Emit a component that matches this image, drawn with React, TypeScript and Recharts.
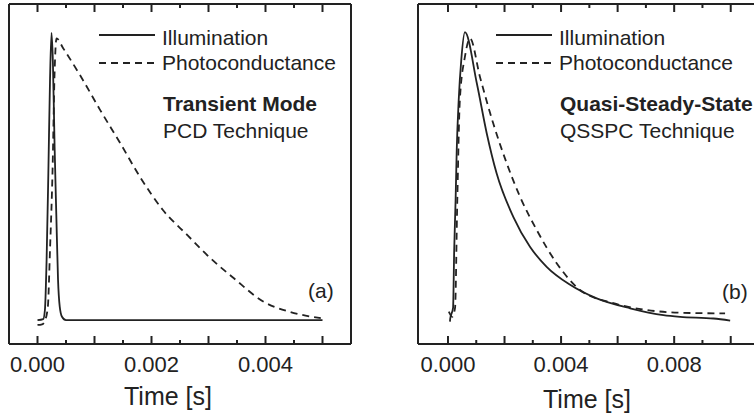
import React from 'react';
import { LineChart, Line, XAxis, YAxis } from 'recharts';

const INK = '#222';
const FONT = '"Liberation Sans", Arial, Helvetica, sans-serif';

// ---- Panel (a): Transient mode ----
const aIllumT = [0, 0.0001, 0.00013, 0.00016, 0.00019, 0.00022, 0.000246, 0.00027, 0.0003, 0.00033, 0.00036, 0.00039, 0.00043, 0.0005, 0.005];
const aIllumV = [7.0, 7.3, 10, 25, 50, 78, 91.5, 83, 58, 38, 19, 11, 8, 7, 7];
const aPhotoT = [0, 0.00008, 0.00012, 0.00018, 0.00022, 0.000264, 0.0003, 0.000334, 0.00045, 0.000745, 0.0011, 0.00145, 0.0018, 0.0022, 0.00263, 0.00303, 0.00344, 0.00397, 0.00444, 0.00497];
const aPhotoV = [5.6, 5.8, 6.5, 10.6, 28, 51, 80, 89.9, 87, 79.1, 68.8, 59.1, 49.1, 39.4, 32.0, 25.3, 19.4, 12.4, 9.4, 7.6];

// ---- Panel (b): Quasi-steady-state ----
const bIllumT = [0.00007, 0.00008, 0.00018, 0.00022, 0.00027, 0.00031, 0.00038, 0.00047, 0.0006, 0.00102, 0.00137, 0.00172, 0.00231, 0.0029, 0.00349, 0.00432, 0.00526, 0.00644, 0.00762, 0.00821, 0.00939, 0.00998];
const bIllumV = [6.6, 7.5, 10.6, 27.6, 42.4, 57.1, 71.8, 83.5, 91.7, 76.7, 62, 50.2, 37.4, 28.6, 22.7, 17.4, 13.4, 10.5, 8.5, 8.0, 7.5, 6.9];
const bPhotoT = [0.00003, 0.00015, 0.00025, 0.00033, 0.00042, 0.0006, 0.00078, 0.00113, 0.0016, 0.00208, 0.00255, 0.00314, 0.00385, 0.00467, 0.00585, 0.00703, 0.00821, 0.0098];
const bPhotoV = [9.5, 8.0, 10.6, 42.4, 71.8, 84.5, 89.9, 78.6, 64.9, 53.1, 43.3, 33.5, 23.7, 15.9, 12, 10, 9.2, 9.0];

// ---- Ticks ----
const aMajor = [0, 0.001, 0.002, 0.003, 0.004, 0.005];
const aMinor = [0.0005, 0.0015, 0.0025, 0.0035, 0.0045];
const aLabeled = [0, 0.002, 0.004];
const bMajor = [0, 0.002, 0.004, 0.006, 0.008, 0.01];
const bMinor = [0.001, 0.003, 0.005, 0.007, 0.009];
const bLabeled = [0, 0.004, 0.008];

const seriesNames = ['Illumination', 'Photoconductance'];

const toData = (ts: number[], vs: number[]) => ts.map((t, i) => ({ t, v: vs[i] }));
const has = (arr: number[], v: number) => arr.some((m) => Math.abs(m - v) < 1e-9);

function makeTick(major: number[], labeled: number[], side: 'top' | 'bottom') {
  return (props: any) => {
    const { x, y, payload } = props;
    const v = payload.value as number;
    const len = has(major, v) ? 8 : 4;
    const dir = side === 'bottom' ? -1 : 1;
    const show = side === 'bottom' && has(labeled, v);
    return (
      <g>
        <line x1={x} x2={x} y1={y} y2={y + dir * len} stroke={INK} strokeWidth={2} />
        {show && (
          <text x={x} y={y + 28} textAnchor="middle" fontSize={22} fill={INK} fontFamily={FONT}>
            {v.toFixed(3)}
          </text>
        )}
      </g>
    );
  };
}

const axisLine = { stroke: INK, strokeWidth: 2 };

function Panel(props: {
  left: number; width: number; margin: any; domain: [number, number];
  major: number[]; minor: number[]; labeled: number[];
  illum: { t: number; v: number }[]; photo: { t: number; v: number }[]; rightAxis: boolean;
}) {
  const ticks = [...props.major, ...props.minor].sort((a, b) => a - b);
  return (
    <div style={{ position: 'absolute', left: props.left, top: 0 }}>
      <LineChart width={props.width} height={420} margin={props.margin}>
        <XAxis xAxisId="b" dataKey="t" type="number" domain={props.domain} allowDataOverflow ticks={ticks}
          interval={0} orientation="bottom" height={40} tickSize={0} tickMargin={0} tickLine={false}
          axisLine={axisLine} tick={makeTick(props.major, props.labeled, 'bottom')} />
        <XAxis xAxisId="t" dataKey="t" type="number" domain={props.domain} allowDataOverflow ticks={ticks}
          interval={0} orientation="top" height={1} tickSize={0} tickMargin={0} tickLine={false}
          axisLine={axisLine} tick={makeTick(props.major, props.labeled, 'top')} />
        <YAxis yAxisId="l" type="number" domain={[0, 100]} allowDataOverflow width={1} tick={false}
          tickLine={false} axisLine={axisLine} />
        {props.rightAxis && (
          <YAxis yAxisId="r" orientation="right" type="number" domain={[0, 100]} width={1} tick={false}
            tickLine={false} axisLine={axisLine} />
        )}
        <Line xAxisId="b" yAxisId="l" data={props.illum} dataKey="v" name={seriesNames[0]} type="monotone"
          stroke={INK} strokeWidth={1.8} dot={false} isAnimationActive={false} />
        <Line xAxisId="b" yAxisId="l" data={props.photo} dataKey="v" name={seriesNames[1]} type="monotone"
          stroke={INK} strokeWidth={1.8} strokeDasharray="7 5" dot={false} isAnimationActive={false} />
      </LineChart>
    </div>
  );
}

function Legend(props: { x: number; title: string; sub: string }) {
  const { x } = props;
  return (
    <g fontFamily={FONT} fill={INK} fontSize={21}>
      <line x1={x} x2={x + 56} y1={35} y2={35} stroke={INK} strokeWidth={1.8} />
      <text x={x + 63} y={44.5}>{seriesNames[0]}</text>
      <line x1={x} x2={x + 56} y1={63} y2={63} stroke={INK} strokeWidth={1.8} strokeDasharray="7 5" />
      <text x={x + 63} y={70}>{seriesNames[1]}</text>
      <text x={x + 64} y={111} fontWeight="bold">{props.title}</text>
      <text x={x + 64} y={137.5}>{props.sub}</text>
    </g>
  );
}

export default function App() {
  return (
    <div style={{ position: 'absolute', left: 0, top: 0, width: 754, height: 420, overflow: 'hidden', background: '#fff' }}>
      <Panel left={0} width={377} margin={{ top: 3, left: 8, right: 25, bottom: 36 }}
        domain={[-0.0005, 0.0055]} major={aMajor} minor={aMinor} labeled={aLabeled}
        illum={toData(aIllumT, aIllumV)} photo={toData(aPhotoT, aPhotoV)} rightAxis={true} />
      <Panel left={377} width={400} margin={{ top: 3, left: 40, right: 18, bottom: 36 }}
        domain={[-0.00106, 0.011]} major={bMajor} minor={bMinor} labeled={bLabeled}
        illum={toData(bIllumT, bIllumV)} photo={toData(bPhotoT, bPhotoV)} rightAxis={false} />
      <svg width={754} height={420} style={{ position: 'absolute', left: 0, top: 0, pointerEvents: 'none' }}>
        <Legend x={99} title="Transient Mode" sub="PCD Technique" />
        <Legend x={496} title="Quasi-Steady-State" sub="QSSPC Technique" />
        <text x={308} y={298} fontSize={21} fill={INK} fontFamily={FONT}>(a)</text>
        <text x={722} y={299} fontSize={21} fill={INK} fontFamily={FONT}>(b)</text>
        <text x={124} y={405} fontSize={25} fill={INK} fontFamily={FONT}>Time [s]</text>
        <text x={543} y={408} fontSize={25} fill={INK} fontFamily={FONT}>Time [s]</text>
      </svg>
    </div>
  );
}
